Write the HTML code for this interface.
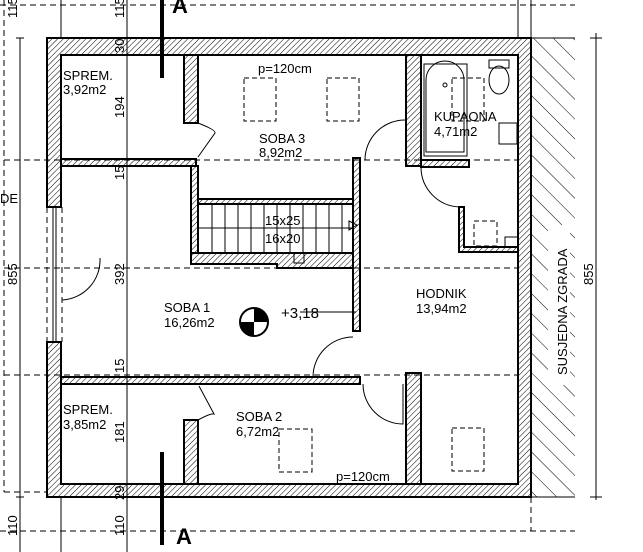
<!DOCTYPE html>
<html><head><meta charset="utf-8"><style>
html,body{margin:0;padding:0;background:#fff}
svg{display:block}
text{font-family:"Liberation Sans",sans-serif;fill:#000}
</style></head><body>
<svg width="643" height="552" viewBox="0 0 643 552" xmlns="http://www.w3.org/2000/svg">
<defs>
<pattern id="h" width="4" height="4" patternUnits="userSpaceOnUse" patternTransform="rotate(45)">
<line x1="0" y1="0" x2="0" y2="4" stroke="#000" stroke-width="1"/>
</pattern>
<pattern id="h2" width="14" height="14" patternUnits="userSpaceOnUse" patternTransform="rotate(-45)">
<line x1="0" y1="0" x2="0" y2="14" stroke="#000" stroke-width="1"/>
</pattern>
</defs>
<g stroke="#000" stroke-width="1" fill="none" stroke-dasharray="6,4">
<line x1="0" y1="5" x2="575" y2="5"/>
<line x1="4" y1="0" x2="4" y2="492"/>
<line x1="4" y1="160" x2="518" y2="160"/>
<line x1="4" y1="268" x2="518" y2="268"/>
<line x1="4" y1="375" x2="518" y2="375"/>
<line x1="4" y1="492" x2="47" y2="492"/>
<line x1="0" y1="531" x2="575" y2="531"/>
<line x1="531" y1="497" x2="531" y2="531"/>
<line x1="47" y1="207" x2="47" y2="342"/>
<line x1="62" y1="207" x2="62" y2="342"/>
</g>
<g stroke="#000" stroke-width="1">
<line x1="20" y1="38" x2="20" y2="552"/>
<line x1="61" y1="0" x2="61" y2="38"/>
<line x1="61" y1="497" x2="61" y2="552"/>
<line x1="127" y1="0" x2="127" y2="552"/>
<line x1="16" y1="38" x2="24" y2="38"/>
<line x1="16" y1="497" x2="24" y2="497"/>
<line x1="596" y1="33" x2="596" y2="500"/>
<line x1="590" y1="38" x2="602" y2="38"/>
<line x1="590" y1="497" x2="602" y2="497"/>
<line x1="518" y1="0" x2="518" y2="38"/>
<line x1="531" y1="0" x2="531" y2="38"/>
<line x1="531" y1="38" x2="575" y2="38"/>
<line x1="531" y1="497" x2="575" y2="497"/>
<line x1="53" y1="207" x2="53" y2="342"/>
<line x1="56" y1="207" x2="56" y2="342"/>
</g>
<rect x="531" y="38" width="44" height="459" fill="url(#h2)"/>
<rect x="548" y="225" width="22" height="160" fill="#fff"/>
<g fill="url(#h)" stroke="#000" stroke-width="2">
<path d="M47 38 H531 V497 H47 V342 H61 V484 H518 V55 H61 V207 H47 Z"/>
<rect x="61" y="159" width="135" height="7"/>
<rect x="184" y="55" width="14" height="68"/>
<rect x="191" y="166" width="7" height="87"/>
<path d="M191 253 H353 V268 H277 V264 H191 Z"/>
<rect x="353" y="158" width="7" height="173"/>
<rect x="198" y="199" width="155" height="5"/>
<rect x="406" y="55" width="15" height="111"/>
<rect x="421" y="160" width="48" height="7"/>
<path d="M459 207 H464 V247 H518 V252 H459 Z"/>
<rect x="61" y="377" width="299" height="7"/>
<rect x="406" y="373" width="15" height="111"/>
<rect x="184" y="420" width="14" height="64"/>
</g>
<g stroke="#000" stroke-width="1" fill="none">
<line x1="198" y1="228" x2="353" y2="228"/>
<path d="M212 204V253M225 204V253M238 204V253M251 204V253M264 204V253M277 204V253M290 204V253M303 204V253M316 204V253M329 204V253M342 204V253"/>
<path d="M349 221 L357 225 L349 230 Z"/>
<rect x="294" y="253" width="10" height="10"/>
<path d="M198 123 Q216 130 215 133 L198 157"/>
<path d="M198 420 Q211 413 214 414 L199 386"/>
<path d="M406 120 A40 40 0 0 0 365 160"/>
<path d="M421 167 A40 40 0 0 0 460 207"/>
<path d="M313 377 A40 40 0 0 1 353 337"/>
<path d="M363 384 A40 40 0 0 0 403 424 V384"/>
<path d="M62 300 A40 40 0 0 0 100 258"/>
<rect x="424" y="64" width="43" height="92"/>
<path d="M426 152 V80 A19 19 0 0 1 464 80 V152 Z"/>
<circle cx="445" cy="85" r="2"/>
<rect x="489" y="60" width="20" height="8"/>
<ellipse cx="499" cy="80" rx="10" ry="14"/>
<rect x="499" y="123" width="18" height="21"/>
<rect x="505" y="237" width="13" height="10"/>
<line x1="300" y1="312" x2="356" y2="312"/>
<g stroke-dasharray="5,3">
<rect x="244" y="78" width="32" height="43"/>
<rect x="327" y="78" width="32" height="43"/>
<rect x="452" y="78" width="32" height="43"/>
<rect x="474" y="221" width="23" height="25"/>
<rect x="279" y="429" width="33" height="43"/>
<rect x="452" y="428" width="32" height="43"/>
</g>
</g>
<circle cx="254" cy="322" r="14" fill="#fff" stroke="#000" stroke-width="2"/>
<path d="M254 308 A14 14 0 0 1 268 322 H254 Z M254 336 A14 14 0 0 1 240 322 H254 Z" fill="#000"/>
<rect x="160" y="0" width="4" height="78" fill="#000"/>
<rect x="160" y="452" width="4" height="93" fill="#000"/>
<text x="172" y="13" font-size="22" font-weight="bold">A</text>
<text x="176" y="544" font-size="22" font-weight="bold">A</text>
<g font-size="13">
<text x="63" y="80">SPREM.</text><text x="63" y="94">3,92m2</text>
<text x="259" y="143">SOBA 3</text><text x="259" y="157">8,92m2</text>
<text x="258" y="73">p=120cm</text>
<text x="434" y="121">KUPAONA</text><text x="434" y="136">4,71m2</text>
<text x="265" y="225">15x25</text><text x="265" y="243">16x20</text>
<text x="164" y="312">SOBA 1</text><text x="164" y="327">16,26m2</text>
<text x="281" y="318" font-size="15">+3,18</text>
<text x="416" y="298">HODNIK</text><text x="416" y="313">13,94m2</text>
<text x="63" y="414">SPREM.</text><text x="63" y="429">3,85m2</text>
<text x="236" y="421">SOBA 2</text><text x="236" y="436">6,72m2</text>
<text x="336" y="481">p=120cm</text>
<text x="0" y="203">DE</text>
</g>
<g font-size="13">
<text transform="translate(124,53) rotate(-90)">30</text>
<text transform="translate(124,118) rotate(-90)">194</text>
<text transform="translate(124,180) rotate(-90)">15</text>
<text transform="translate(124,285) rotate(-90)">392</text>
<text transform="translate(124,373) rotate(-90)">15</text>
<text transform="translate(124,443) rotate(-90)">181</text>
<text transform="translate(124,500) rotate(-90)">29</text>
<text transform="translate(124,536) rotate(-90)">110</text>
<text transform="translate(124,18) rotate(-90)">115</text>
<text transform="translate(17,18) rotate(-90)">115</text>
<text transform="translate(17,285) rotate(-90)">855</text>
<text transform="translate(17,536) rotate(-90)">110</text>
<text transform="translate(593,285) rotate(-90)">855</text>
<text transform="translate(567,375) rotate(-90)">SUSJEDNA ZGRADA</text>
</g>
</svg>
</body></html>
